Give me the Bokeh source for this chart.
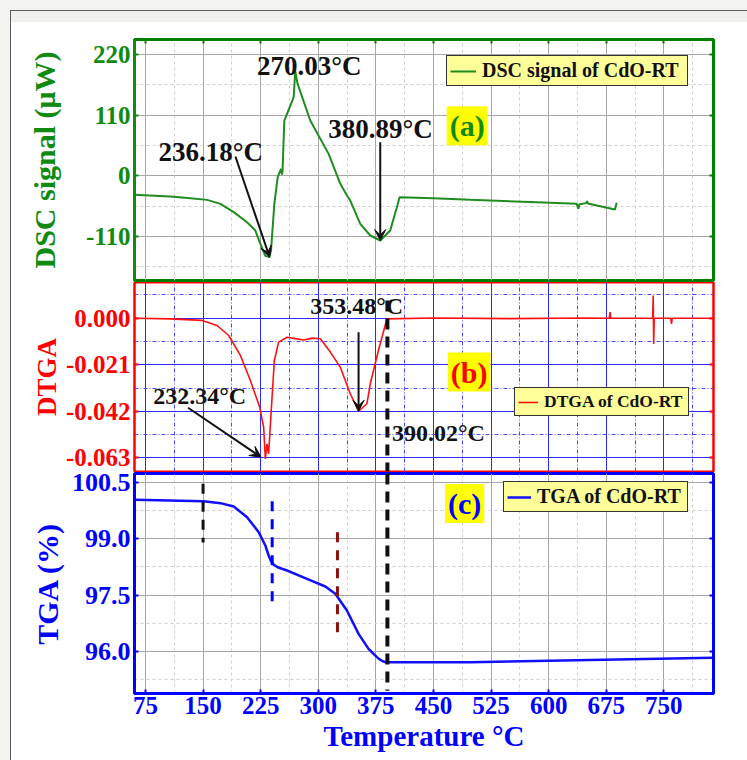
from bokeh.plotting import figure
from bokeh.models import (Range1d, FixedTicker, LinearAxis, Grid, Label, Arrow, VeeHead,
                          Legend, LegendItem, CustomJSTickFormatter, ColumnDataSource)
from bokeh.layouts import column
from bokeh.embed import file_html
from bokeh.resources import INLINE

# ---------------- data ----------------
x_ticks = [75, 150, 225, 300, 375, 450, 525, 600, 675, 750]
x_labels = ["75", "150", "225", "300", "375", "450", "525", "600", "675", "750"]

dsc_ticks = [-110, 0, 110, 220]
dsc_labels = ["-110", "0", "110", "220"]
dtga_ticks = [-0.063, -0.042, -0.021, 0.0]
dtga_labels = ["-0.063", "-0.042", "-0.021", "0.000"]
tga_ticks = [96.0, 97.5, 99.0, 100.5]
tga_labels = ["96.0", "97.5", "99.0", "100.5"]

dsc_T = [61, 80, 107.5, 130, 155.2, 172.6, 189.9, 207.3, 218.1, 224.6,
         231.1, 236.2, 238.5, 242.8, 247.2, 251.5, 252.8, 253.5, 255.8, 260.1,
         268, 270.03, 273.1, 289.6, 313.5, 328.7, 337.4, 341.7, 354.7, 367.7,
         380.9, 393.7, 402.4, 405.9, 450, 497.8, 584.5, 636.6, 638.7, 640,
         649, 650, 651, 686.4, 688.6]
dsc_v = [-34.5, -35.5, -37.5, -40.0, -43.6, -50.8, -65.9, -84.1, -99.2, -123.4,
         -145.1, -147.5, -135.4, -50.8, -2.5, 12.6, 2.4, 10, 100.3, 115,
         142.5, 189.7, 166.8, 100.3, 39.8, -14.5, -35.7, -44.8, -87.1, -108.2,
         -117.3, -99.2, -56.9, -38.7, -40.5, -43.6, -47.8, -50.8, -59.9, -51.5,
         -49.5, -46, -50, -61.1, -49]

dtga_T = [61, 107.5, 148.7, 168.2, 183.4, 198.6, 211.6, 223.7, 228.9, 231.1,
          233.3, 235.4, 238.5, 242.8, 248.4, 259.3, 270, 281, 292, 302.7,
          315.7, 328.7, 341.7, 352.5, 363.4, 367.7, 378, 389.4, 450, 550,
          650, 679, 680, 681, 735.5, 736.2, 736.8, 737.5, 759, 760,
          761, 815]
dtga_v = [0, -0.0003, -0.0010, -0.0033, -0.0078, -0.0168, -0.0281, -0.0401, -0.0492, -0.0635,
          -0.0567, -0.0612, -0.0432, -0.0191, -0.0108, -0.0086, -0.0092, -0.0098, -0.0090, -0.0093,
          -0.0153, -0.0221, -0.0341, -0.0420, -0.0386, -0.0296, -0.0150, -0.0003, 0.0001, -0.0002,
          0.0001, 0.0, 0.0027, 0.0, 0.0, 0.0102, -0.0116, 0.0, 0.0, -0.0026,
          0.0, 0.0]

tga_T = [61, 150.9, 172.6, 189.9, 207.3, 222.4, 231.1, 235.4, 238.5, 241.9,
         247.0, 259.3, 285.3, 309.2, 322.2, 337.3, 352.5, 365.5, 370.0, 376.4,
         380.0, 384.0, 387.2, 497.8, 671.2, 814.3]
tga_v = [100.031, 99.996, 99.943, 99.854, 99.570, 99.172, 98.817, 98.552, 98.40, 98.312,
         98.24, 98.153, 97.931, 97.728, 97.533, 97.090, 96.470, 96.071, 95.98, 95.85,
         95.79, 95.74, 95.716, 95.716, 95.778, 95.831]

# onset markers in the TGA panel
mark_T = [150, 240, 325]
mark_top = [100.46, 99.995, 99.17]
mark_bot = [98.90, 97.25, 96.41]
mark_col = ["#111111", "#0000ff", "#8b1010"]
onset_T = 390.02

X_START, X_END = 60.7, 814.7
DSC_RANGE = (-189.8, 247.2)
DTGA_RANGE = (-0.06918, 0.01611)
TGA_RANGE = (94.884, 100.731)

FONT = "Liberation Serif"
GREEN = "#108a10"
RED = "#ff0000"
BLUE = "#0000ff"


def base_fig(frame_h, yr, top, bottom, color, ow, **kw):
    p = figure(frame_width=579, frame_height=frame_h, x_range=Range1d(X_START, X_END),
               y_range=Range1d(*yr), output_backend="svg", toolbar_location=None, tools="",
               x_axis_location=None, y_axis_location=None,
               min_border_left=134, min_border_right=34,
               min_border_top=top, min_border_bottom=bottom, **kw)
    p.center = [r for r in p.center if not isinstance(r, Grid)]
    p.border_fill_color = None
    p.background_fill_color = "white"
    p.outline_line_color = color
    p.outline_line_width = ow
    p.outline_line_alpha = 1.0
    return p


def add_grid(p, dim, ticks, color, mcolor, mdash):
    step = ticks[1] - ticks[0]
    minor = [t + step / 2.0 for t in ticks] + [ticks[0] - step / 2.0]
    g = Grid(dimension=dim, ticker=FixedTicker(ticks=ticks, minor_ticks=minor))
    g.grid_line_color = color
    g.grid_line_width = 1
    g.minor_grid_line_color = mcolor
    g.minor_grid_line_dash = mdash
    g.minor_grid_line_width = 1
    p.add_layout(g)


def add_axis(p, place, ticks, labels, color, size, lw=3, show=True, standoff=4,
             title=None, tsize="30px", tstand=5):
    ax = LinearAxis(ticker=FixedTicker(ticks=ticks))
    if show:
        ax.formatter = CustomJSTickFormatter(
            args=dict(tv=list(ticks), tl=list(labels)),
            code="for (let i = 0; i < tv.length; i++) { if (Math.abs(tv[i] - tick) < 1e-9) return tl[i]; } return '';")
    else:
        ax.formatter = CustomJSTickFormatter(code="return '';")
    ax.axis_line_color = color
    ax.axis_line_width = lw
    ax.major_tick_in = 4
    ax.major_tick_out = 0
    ax.major_tick_line_color = color
    ax.major_tick_line_width = 2
    ax.minor_tick_in = 0
    ax.minor_tick_out = 0
    ax.major_label_text_font = FONT
    ax.major_label_text_font_style = "bold"
    ax.major_label_text_font_size = size
    ax.major_label_text_color = color
    ax.major_label_standoff = standoff
    if title:
        ax.axis_label = title
        ax.axis_label_text_font = FONT
        ax.axis_label_text_font_style = "bold"
        ax.axis_label_text_font_size = tsize
        ax.axis_label_text_color = color
        ax.axis_label_standoff = tstand
    p.add_layout(ax, place)


def note(p, text, x, y, size):
    p.add_layout(Label(x=x, y=y, text=text, text_align="left", text_baseline="alphabetic",
                       text_font=FONT, text_font_style="bold", text_font_size=size,
                       text_color="#111111"))


def arrow(p, x0, y0, x1, y1):
    p.add_layout(Arrow(end=VeeHead(size=11, fill_color="#111111", line_color="#111111", line_width=1),
                       x_start=x0, y_start=y0, x_end=x1, y_end=y1,
                       line_color="#111111", line_width=2))


def tag(p, text, x, y, color):
    p.add_layout(Label(x=x, y=y, text=text, text_align="center", text_baseline="middle",
                       text_font=FONT, text_font_style="bold", text_font_size="30px",
                       text_color=color, background_fill_color="#ffff00", padding=3))


def legend(p, r, text, loc, size, gw, lw):
    lg = Legend(items=[LegendItem(label=text, renderers=[r])], location=loc,
                label_text_font=FONT, label_text_font_style="bold", label_text_font_size=size,
                label_text_color="#111111", background_fill_color="#ffff99",
                background_fill_alpha=1.0, border_line_color="#333333", border_line_width=1.5,
                border_line_alpha=1.0, padding=3, margin=0, spacing=0, glyph_width=gw,
                glyph_height=16, label_standoff=6, label_width=lw, label_height=16)
    p.add_layout(lg)


# ---------------- (a) DSC ----------------
p1 = base_fig(241, DSC_RANGE, 39, 2, "#008000", 3)
add_grid(p1, 0, x_ticks, "#a6a6a6", "#cfcfcf", "3 3")
add_grid(p1, 1, dsc_ticks, "#a6a6a6", "#cfcfcf", "3 3")
add_axis(p1, "left", dsc_ticks, dsc_labels, GREEN, "25px",
         title="DSC signal (μW)", tsize="30px", tstand=22)
add_axis(p1, "right", dsc_ticks, dsc_labels, "#008000", "1px", show=False)
add_axis(p1, "above", x_ticks, x_labels, "#008000", "1px", show=False)
r1 = p1.line(x="T", y="v", source=ColumnDataSource(dict(T=dsc_T, v=dsc_v)),
             line_color="#1f8c1f", line_width=2)
note(p1, "270.03°C", 220.3, 200, "27px")
note(p1, "236.18°C", 91.9, 42.8, "27px")
note(p1, "380.89°C", 313.0, 85.2, "27px")
arrow(p1, 192.1, 35.0, 236.7, -147.6)
arrow(p1, 380.7, 60.9, 380.7, -117.3)
tag(p1, "(a)", 493.9, 91.0, GREEN)
legend(p1, r1, "DSC signal of CdO-RT", (312, 194), "20px", 26, 202)

# ---------------- (b) DTGA ----------------
p2 = base_fig(189, DTGA_RANGE, 0, 1, RED, 2)
add_grid(p2, 0, x_ticks, "#2a2aff", "#4a4aff", "4 2 1 2")
add_grid(p2, 1, dtga_ticks, "#2a2aff", "#4a4aff", "4 2 1 2")
add_axis(p2, "left", dtga_ticks, dtga_labels, RED, "25px", lw=2,
         title="DTGA", tsize="27px", tstand=1)
add_axis(p2, "right", dtga_ticks, dtga_labels, RED, "1px", lw=2, show=False)
r2 = p2.line(x="T", y="v", source=ColumnDataSource(dict(T=dtga_T, v=dtga_v)),
             line_color="#ff1010", line_width=1.6)
p2.segment(x0=[onset_T], y0=[0.008], x1=[onset_T], y1=[DTGA_RANGE[0]],
           line_color="#111111", line_width=4, line_dash="11 7")
note(p2, "232.34°C", 85.0, -0.0349, "24px")
note(p2, "353.48°C", 289.6, 0.0057, "24px")
note(p2, "390.02°C", 395.9, -0.0520, "24px")
arrow(p2, 130.5, -0.0404, 225.5, -0.0627)
arrow(p2, 352.5, -0.0063, 352.5, -0.0420)
tag(p2, "(b)", 496.5, -0.0243, RED)
legend(p2, r2, "DTGA of CdO-RT", (380, 55), "17.5px", 20, 141)

# ---------------- (c) TGA ----------------
# the canvas reaches 9px up (transparent) so the top tick label is not cut
p3 = base_fig(220, TGA_RANGE, 9, 67, BLUE, 3, margin=(-8, 0, 0, 0))
add_grid(p3, 0, x_ticks, "#a6a6a6", "#cfcfcf", "3 3")
add_grid(p3, 1, tga_ticks, "#a6a6a6", "#cfcfcf", "3 3")
add_axis(p3, "left", tga_ticks, tga_labels, BLUE, "26px",
         title="TGA (%)", tsize="30px", tstand=5)
add_axis(p3, "right", tga_ticks, tga_labels, BLUE, "1px", show=False)
add_axis(p3, "below", x_ticks, x_labels, BLUE, "25px", standoff=3,
         title="Temperature °C", tsize="29px", tstand=3)
r3 = p3.line(x="T", y="v", source=ColumnDataSource(dict(T=tga_T, v=tga_v)),
             line_color="#1010ff", line_width=2.5)
p3.segment(x0="T", y0="top", x1="T", y1="bot", line_color="c",
           source=ColumnDataSource(dict(T=mark_T, top=mark_top, bot=mark_bot, c=mark_col)),
           line_width=3, line_dash="10 8")
p3.segment(x0=[onset_T], y0=[TGA_RANGE[1]], x1=[onset_T], y1=[94.96],
           line_color="#111111", line_width=4, line_dash="11 7")
tag(p3, "(c)", 490.6, 99.934, BLUE)
legend(p3, r3, "TGA of CdO-RT", (369, 181), "20px", 24, 147)

page_bg = ("linear-gradient(to right, #f3f3ef 10px, #5c5c5c 10px, #5c5c5c 11px, "
           "rgba(255,255,255,0) 11px) 0px 10px / 100% 100% no-repeat, "
           "linear-gradient(to bottom, #f3f3ef 10px, #5c5c5c 10px, #5c5c5c 11px, "
           "#f0f0ec 11px, #f0f0ec 22px, #ffffff 22px)")
layout = column(p1, p2, p3, spacing=0, styles={"background": page_bg})

open("out.html", "w").write(file_html(layout, INLINE))
